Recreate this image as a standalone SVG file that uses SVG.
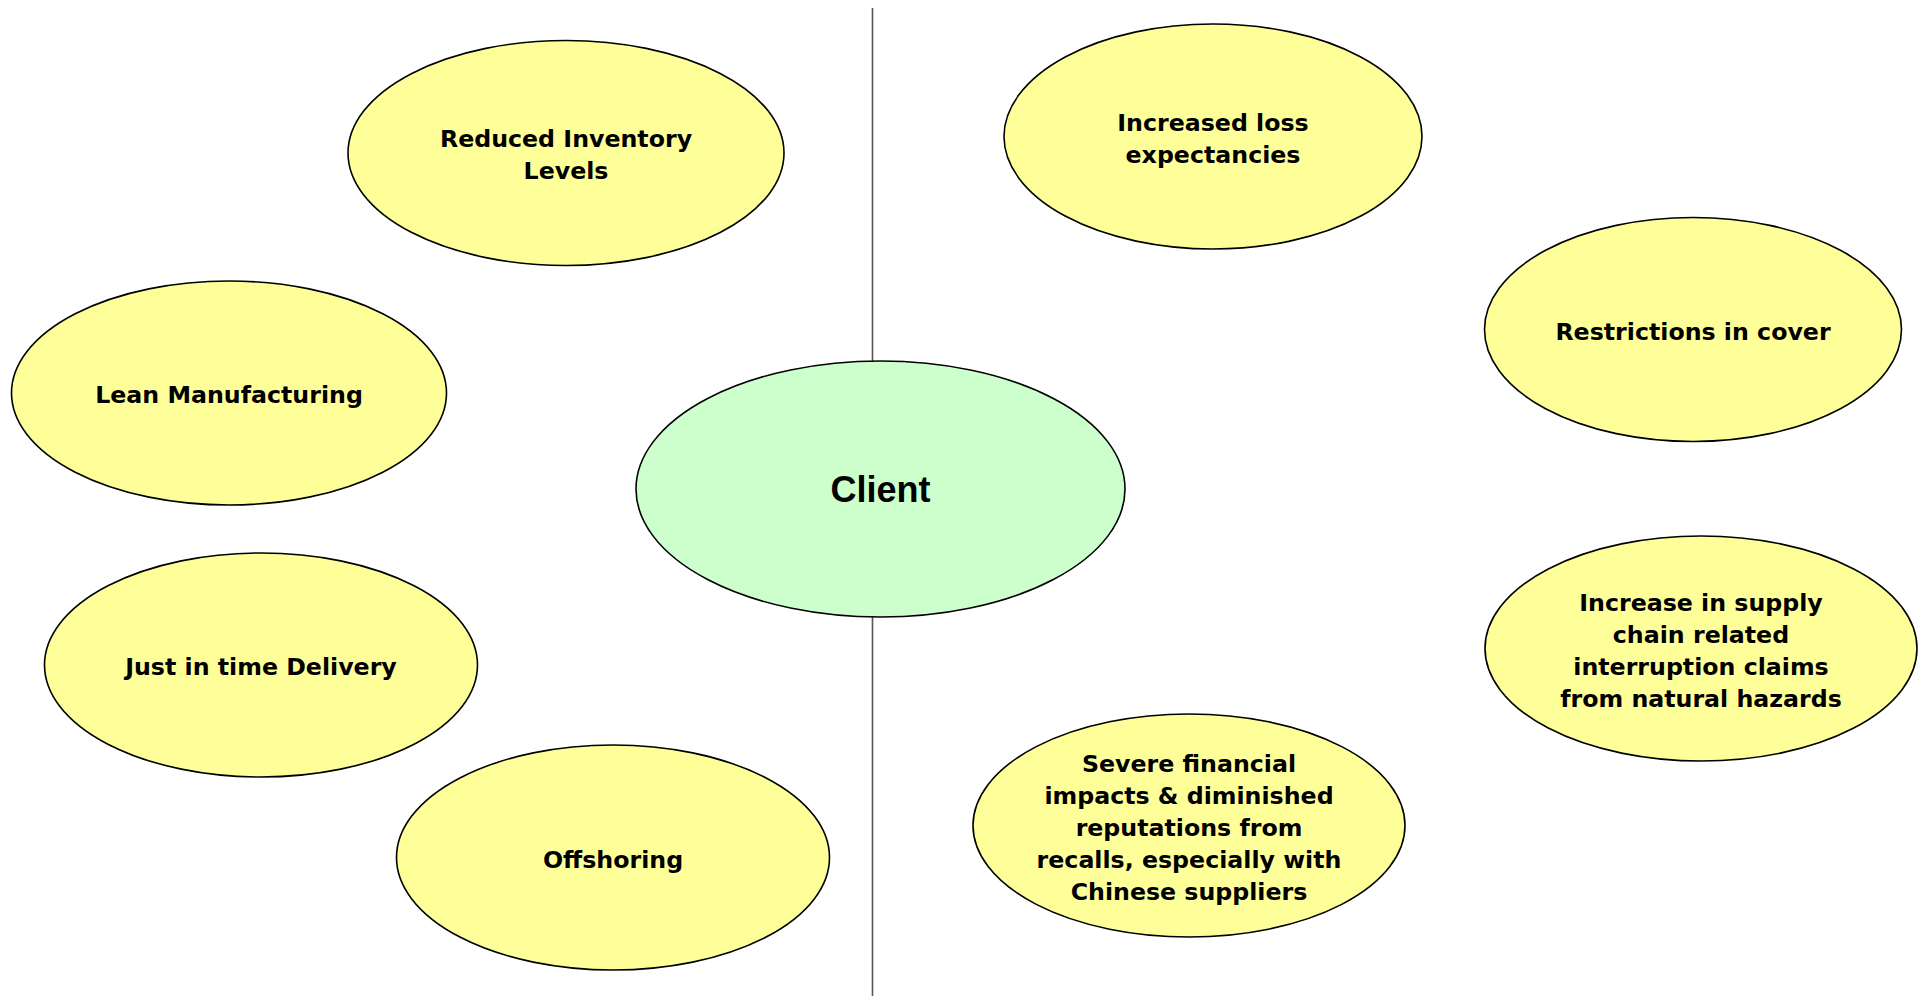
<svg xmlns="http://www.w3.org/2000/svg" width="1921" height="996" viewBox="0 0 1921 996">
<style>
.bg{fill:#ffffff}
.n ellipse{fill:#ffff99;stroke:#000000;stroke-width:1.6}
.n text{font-family:"DejaVu Sans",Verdana,sans-serif;font-weight:bold;font-size:23.7px;fill:#000000;text-anchor:middle}
#client ellipse{fill:#ccffcc}
#client text{font-family:"Liberation Sans",Arial,sans-serif;font-size:36px}
.div{stroke:#555555;stroke-width:1.6}
</style>
<rect class="bg" x="0" y="0" width="1921" height="996"/>
<g id="connectors">
<line class="div" x1="872.5" y1="8" x2="872.5" y2="996"/>
</g>
<g id="reduced-inventory" class="n">
<ellipse cx="566" cy="153" rx="218" ry="112.5"/>
<text x="566" y="147">Reduced Inventory</text>
<text x="566" y="179">Levels</text>
</g>
<g id="lean-manufacturing" class="n">
<ellipse cx="229" cy="393" rx="217.5" ry="112"/>
<text x="229" y="403">Lean Manufacturing</text>
</g>
<g id="just-in-time" class="n">
<ellipse cx="261" cy="665" rx="216.5" ry="112"/>
<text x="261" y="675">Just in time Delivery</text>
</g>
<g id="offshoring" class="n">
<ellipse cx="613" cy="857.5" rx="216.5" ry="112.5"/>
<text x="613" y="867.5">Offshoring</text>
</g>
<g id="client" class="n">
<ellipse cx="880.5" cy="489" rx="244.5" ry="128"/>
<text x="880.5" y="502">Client</text>
</g>
<g id="increased-loss" class="n">
<ellipse cx="1213" cy="136.5" rx="209" ry="112.5"/>
<text x="1213" y="131">Increased loss</text>
<text x="1213" y="163">expectancies</text>
</g>
<g id="restrictions" class="n">
<ellipse cx="1693" cy="329.5" rx="208.5" ry="112"/>
<text x="1693" y="339.5">Restrictions in cover</text>
</g>
<g id="supply-chain" class="n">
<ellipse cx="1701" cy="648.5" rx="216" ry="112.5"/>
<text x="1701" y="611">Increase in supply</text>
<text x="1701" y="643">chain related</text>
<text x="1701" y="674.5">interruption claims</text>
<text x="1701" y="706.5">from natural hazards</text>
</g>
<g id="severe-financial" class="n">
<ellipse cx="1189" cy="825.5" rx="216" ry="111.5"/>
<text x="1189" y="771.5">Severe financial</text>
<text x="1189" y="803.5">impacts &amp; diminished</text>
<text x="1189" y="835.5">reputations from</text>
<text x="1189" y="867.5">recalls, especially with</text>
<text x="1189" y="899.5">Chinese suppliers</text>
</g>
</svg>
